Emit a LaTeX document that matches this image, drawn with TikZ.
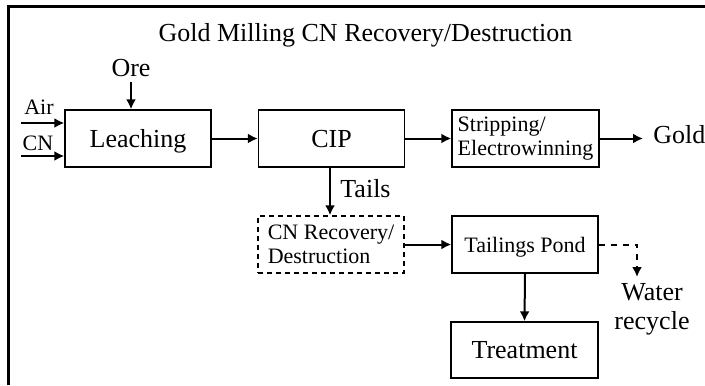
\documentclass[tikz,border=0pt]{standalone}
\usepackage{fontspec}
\setmainfont{Liberation Serif}
\usetikzlibrary{positioning, arrows.meta}

\begin{document}
\begin{tikzpicture}[
        x = 0.5pt, y = -0.5pt,
        unit/.style     = {draw, line width=0.7pt, minimum width=73pt, minimum height=28.5pt, inner sep=2pt, text depth=0pt},
        bigtxt/.style   = {font=\fontsize{13}{14.5}\selectfont},
        smalltxt/.style = {font=\fontsize{11}{12}\selectfont},
        flow/.style     = {draw, line width=1pt, -{Latex[length=5pt, width=5pt]}},
        label/.style    = {inner sep=0pt, anchor=base},
    ]
    \useasboundingbox (0,0) rectangle (705,385);
    \draw[line width=1.5pt] (8,385) -- (8,7) -- (705,7);

    \node [label, bigtxt] (title) at (365.5,42) {Gold Milling CN Recovery/Destruction};

    % process units
    \node [unit, bigtxt] (leach) at (138,138.5) {Leaching};
    \node [unit, bigtxt] (cip) at (331.5,138.5) {CIP};
    \node [unit, smalltxt, align=left, minimum width=73.5pt, text depth=] (strip) at (525.5,138.5) {Stripping/\\Electrowinning};
    \node [unit, smalltxt, align=left, text depth=, dash pattern=on 2.5pt off 2pt] (cnrec) at (331,244.5) {CN Recovery/\\Destruction};
    \node [unit, smalltxt] (pond) at (525,244.5) {Tailings Pond};
    \node [unit, bigtxt, minimum width=73.5pt, minimum height=28pt] (treat) at (524.5,350) {Treatment};

    % streams
    \node [label, bigtxt] (ore) at (131,76) {Ore};
    \node [label, smalltxt] (air) at (39,114) {Air};
    \node [label, smalltxt] (cn) at (38,150) {CN};
    \coordinate (airin) at (21,123);
    \coordinate (cnin) at (21,156);
    \node [label, bigtxt, anchor=base west] (gold) at (653,143) {Gold};
    \node [label, bigtxt, anchor=base west] (tails) at (340,197) {Tails};
    \node [label, bigtxt, align=center, anchor=north] (water) at (652,283) {Water\\recycle};
    \coordinate (wdrop) at (637,277);

    \draw [flow] (ore.base) ++(0,6) -- (ore.base |- leach.north);
    \draw [flow] (airin) -- (airin -| leach.west);
    \draw [flow] (cnin) -- (cnin -| leach.west);
    \draw [flow] (leach) -- (cip);
    \draw [flow] (cip) -- (strip);
    \draw [flow, shorten >=5pt] (strip.east) -- (gold.west |- strip.east);
    \draw [flow] (cip.south -| 330,0) -- (cnrec.north -| 330,0);
    \draw [flow] (cnrec) -- (pond);
    \draw [flow, dashed] (pond.east) -| (wdrop);
    \draw [flow] (pond.south) -- (treat.north);
\end{tikzpicture}
\end{document}
